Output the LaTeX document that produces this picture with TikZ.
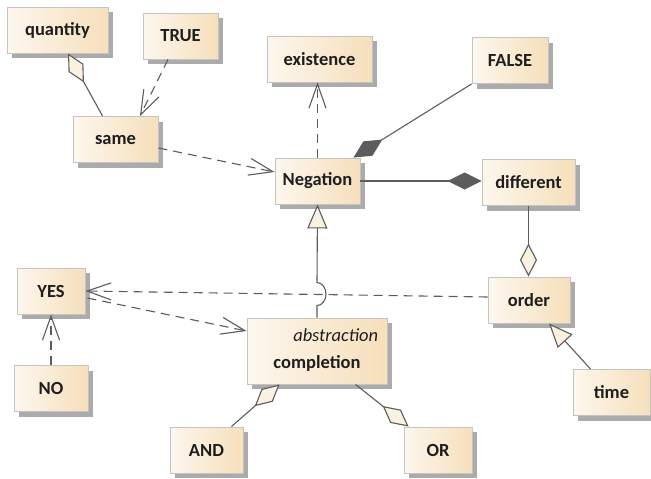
\documentclass[tikz,border=0pt]{standalone}
\usepackage{fontspec}
\setmainfont{Carlito}
\usetikzlibrary{arrows.meta,shadows,calc}
\definecolor{boxleft}{HTML}{FDF7EE}
\definecolor{boxright}{HTML}{F6DFBB}
\definecolor{boxborder}{HTML}{C4C4C4}
\definecolor{shadowgray}{HTML}{ABABAB}
\definecolor{linegray}{HTML}{5C5C5C}
\definecolor{tipfill}{HTML}{FBF1E0}
\definecolor{textdark}{HTML}{1E1E1E}
\tikzset{
  cls/.style={draw=boxborder, line width=0.9pt, left color=boxleft, right color=boxright,
    minimum height=46pt, inner sep=0pt, text=textdark,
    font=\fontsize{18.5}{22}\selectfont\bfseries,
    drop shadow={shadow xshift=5pt, shadow yshift=-5pt, fill=shadowgray, opacity=1}},
  conn/.style={draw=linegray, line width=1.1pt},
  dep/.style={conn, dash pattern=on 9pt off 6pt,
    -{Straight Barb[length=24pt,width=17pt]}},
  hdia/.style={conn, -{Diamond[length=33pt,width=17pt,fill=tipfill]}},
  fdia/.style={conn, -{Diamond[length=34pt,width=17pt,fill=linegray]}},
  gen/.style={conn, -{Triangle[length=24pt,width=20pt,fill=tipfill]}},
  lbl/.style={inner sep=0pt, text=textdark, font=\fontsize{18.5}{22}\selectfont}
}
\begin{document}
\begin{tikzpicture}[x=1pt,y=-1pt]
\useasboundingbox (0,0) rectangle (651,479);
% classes
\node[cls, minimum width=101pt] (quantity) at (57.5,30) {quantity};
\node[cls, minimum width=75pt] (TRUE) at (180.5,36) {TRUE};
\node[cls, minimum width=85pt] (same) at (115.5,139.5) {same};
\node[cls, minimum width=105pt] (existence) at (319.5,59) {existence};
\node[cls, minimum width=76pt] (FALSE) at (510,60.5) {FALSE};
\node[cls, minimum width=85pt] (Negation) at (317.5,181) {Negation};
\node[cls, minimum width=93pt] (different) at (528.5,182.5) {different};
\node[cls, minimum width=82pt] (order) at (529,300) {order};
\node[cls, minimum width=77pt] (time) at (611.5,392.5) {time};
\node[cls, minimum width=68pt] (YES) at (51,291) {YES};
\node[cls, minimum width=74pt] (NO) at (51,388.5) {NO};
\node[cls, minimum width=73pt] (AND) at (206.5,450) {AND};
\node[cls, minimum width=68pt] (OR) at (438,450) {OR};
\node[cls, minimum width=140pt, minimum height=66pt] (completion) at (317,351) {};
\node[lbl, anchor=east] (abstr) at ($(completion.east)+(-9,-16)$) {\itshape abstraction};
\node[lbl, font=\fontsize{18.5}{22}\selectfont\bfseries] (compl) at ($(completion.center)+(0,12)$) {completion};
% connectors
\draw[hdia] ($(same.north west)+(30,0)$) -- ($(quantity.south)+(10.5,0)$);
\draw[dep] ($(TRUE.south)+(-12.5,0)$) -- ($(same.north)+(24.5,0)$);
\draw[dep] ($(same.east)+(0,8.5)$) -- ($(Negation.west)+(0,-9)$);
\draw[dep] (Negation.north) -- (Negation.north |- existence.south);
\draw[fdia] (FALSE.south west) -- ($(Negation.north east)+(-7,0)$);
\draw[fdia] (Negation.east) -- (Negation.east -| different.west);
\draw[hdia] (different.south) -- (different.south |- order.north);
\draw[gen] ($(time.north west)+(18,0)$) -- ($(order.south)+(20,0)$);
\draw[gen] (completion.north) -- ++(0,-12) arc[start angle=90, end angle=-90, x radius=9, y radius=11.5] -- (Negation.south);
\draw[dep] ($(order.west)+(0,-3)$) -- (YES.east);
\draw[dep] ($(YES.east)+(2,7)$) -- ($(completion.west)+(0,-20)$);
\draw[dep] (NO.north) -- (YES.south);
\draw[hdia] ($(AND.north east)+(-12,0)$) -- ($(completion.south west)+(33,0)$);
\draw[hdia] ($(completion.south west)+(109,0)$) -- ($(OR.north west)+(5,0)$);
\end{tikzpicture}
\end{document}
